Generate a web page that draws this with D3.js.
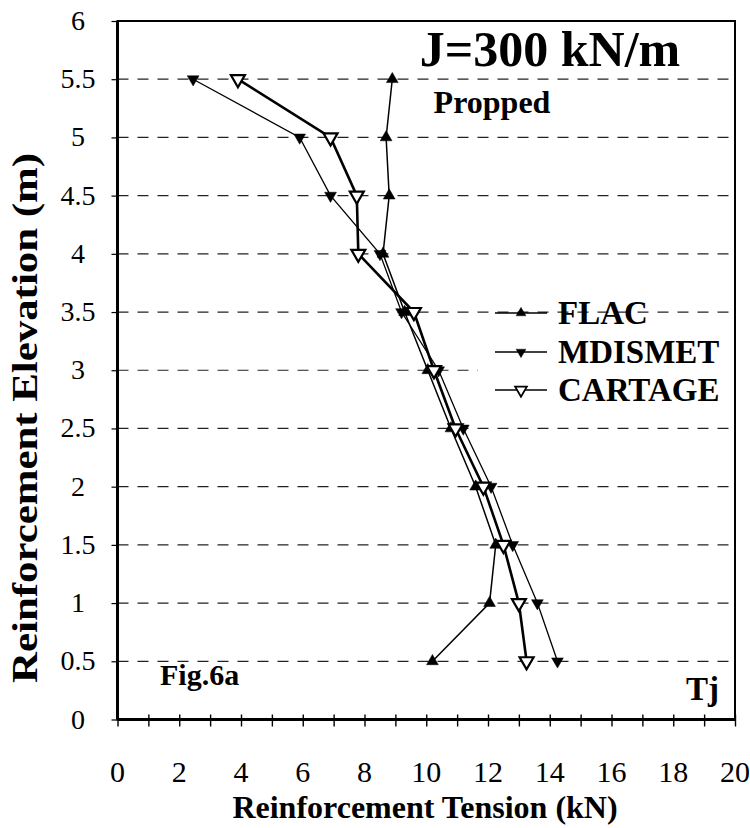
<!DOCTYPE html>
<html><head><meta charset="utf-8">
<script src="https://cdn.jsdelivr.net/npm/d3@7"></script>
<style>body{margin:0;background:#fff}svg{display:block}</style>
</head><body><svg id="c" width="750" height="828"></svg>
<script>
// ---- data ----
const elevations = [5.5, 5.0, 4.5, 4.0, 3.5, 3.0, 2.5, 2.0, 1.5, 1.0, 0.5];
const flac      = [8.9, 8.7, 8.8, 8.6, 9.3, 10.05, 10.8, 11.6, 12.25, 12.05, 10.2];
const mdismet   = [2.45, 5.9, 6.9, 8.5, 9.2, 10.4, 11.2, 12.1, 12.8, 13.6, 14.25];
const cartage   = [3.9, 6.9, 7.75, 7.8, 9.6, 10.25, 10.95, 11.85, 12.5, 13.0, 13.25];
const seriesNames = ["FLAC", "MDISMET", "CARTAGE"];
const xTickLabels = [0, 2, 4, 6, 8, 10, 12, 14, 16, 18, 20];
const xMinorTicks = [0,1,2,3,4,5,6,7,8,9,10,11,12,13,14,15,16,17,18,19,20];
const yTickLabels = [0, 0.5, 1, 1.5, 2, 2.5, 3, 3.5, 4, 4.5, 5, 5.5, 6];
const gridValues  = [0.5, 1, 1.5, 2, 2.5, 3, 3.5, 4, 4.5, 5, 5.5];

const svg = d3.select("#c");
const FONT = '"Liberation Serif", "Times New Roman", Times, serif';
const x = d3.scaleLinear().domain([0, 20]).range([117.5, 735]);
const y = d3.scaleLinear().domain([0, 6]).range([719.5, 21]);

function txt(sel, size, bold) {
  return sel.style("font-family", FONT).style("font-size", size + "px").style("font-weight", bold ? "bold" : "normal");
}

// gridlines
svg.append("g").selectAll("line").data(gridValues).join("line")
  .attr("x1", x(0)).attr("x2", x(20))
  .attr("y1", d => y(d)).attr("y2", d => y(d))
  .attr("stroke", "#222").attr("stroke-width", 1.2)
  .attr("stroke-dasharray", "11,9");

// legend background (hides gridline behind lower entries)
svg.append("rect").attr("x", 478).attr("y", 335).attr("width", 254).attr("height", 78).attr("fill", "#fff");

// frame
svg.append("rect").attr("x", x(0)).attr("y", y(6)).attr("width", x(20) - x(0)).attr("height", y(0) - y(6))
  .attr("fill", "none").attr("stroke", "#000").attr("stroke-width", 2);
svg.append("line").attr("x1", x(0)).attr("x2", x(0)).attr("y1", y(6)).attr("y2", y(0)).attr("stroke", "#000").attr("stroke-width", 3);
svg.append("line").attr("x1", x(0)).attr("x2", x(20)).attr("y1", y(0)).attr("y2", y(0)).attr("stroke", "#000").attr("stroke-width", 3);

// x axis
const xAxis = d3.axisBottom(x).tickValues(xMinorTicks).tickSize(7).tickFormat("");
const gx = svg.append("g").attr("transform", `translate(0,${y(0)})`).call(xAxis);
gx.select(".domain").remove();
gx.selectAll(".tick line").attr("y1", -5).attr("stroke", "#000").attr("stroke-width", 1.4);
txt(svg.append("g").selectAll("text").data(xTickLabels).join("text")
  .attr("x", d => x(d)).attr("y", 782)
  .attr("text-anchor", "middle"), 30, false)
  .text(d => d);

// y axis
const yAxis = d3.axisLeft(y).tickValues(yTickLabels).tickSize(6).tickFormat("");
const gy = svg.append("g").attr("transform", `translate(${x(0)},0)`).call(yAxis);
gy.select(".domain").remove();
gy.selectAll(".tick line").attr("stroke", "#000").attr("stroke-width", 1.2);
txt(svg.append("g").selectAll("text").data(yTickLabels).join("text")
  .attr("x", 78).attr("y", d => y(d) + 9)
  .attr("text-anchor", "middle"), 28, false)
  .text(d => d);

// axis titles
txt(svg.append("text").attr("x", 425).attr("y", 818).attr("text-anchor", "middle"), 32, true)
  .text("Reinforcement Tension (kN)");
txt(svg.append("text").attr("transform", "translate(37,418) rotate(-90)").attr("text-anchor", "middle"), 36, true)
  .attr("textLength", 530).attr("lengthAdjust", "spacingAndGlyphs")
  .text("Reinforcement Elevation (m)");

// annotations
txt(svg.append("text").attr("x", 550).attr("y", 66).attr("text-anchor", "middle"), 50, true).text("J=300 kN/m");
txt(svg.append("text").attr("x", 492).attr("y", 113).attr("text-anchor", "middle"), 32, true).text("Propped");
txt(svg.append("text").attr("x", 160).attr("y", 685), 30, true).text("Fig.6a");
txt(svg.append("text").attr("x", 719).attr("y", 700).attr("text-anchor", "end"), 33, true).text("Tj");

// series
const series = [
  {name: seriesNames[0], vals: flac,    lw: 1.5, rot: 0,   fill: "#000", size: 60, sw: 0.5},
  {name: seriesNames[1], vals: mdismet, lw: 1.3, rot: 180, fill: "#000", size: 60, sw: 0.5},
  {name: seriesNames[2], vals: cartage, lw: 2.6, rot: 180, fill: "#fff", size: 85, sw: 2.2}
];
const line = d3.line().x(d => x(d[0])).y(d => y(d[1]));
series.forEach(s => {
  const pts = s.vals.map((v, i) => [v, elevations[i]]);
  svg.append("path").attr("d", line(pts)).attr("fill", "none").attr("stroke", "#000").attr("stroke-width", s.lw);
});
series.forEach(s => {
  const pts = s.vals.map((v, i) => [v, elevations[i]]);
  svg.append("g").selectAll("path").data(pts).join("path")
    .attr("d", d3.symbol(d3.symbolTriangle, s.size)())
    .attr("transform", d => `translate(${x(d[0])},${y(d[1])}) rotate(${s.rot})`)
    .attr("fill", s.fill).attr("stroke", "#000").attr("stroke-width", s.sw);
});

// legend
const legendY = [313, 352, 390];
series.forEach((s, i) => {
  const g = svg.append("g").attr("transform", `translate(0,${legendY[i]})`);
  g.append("line").attr("x1", 495).attr("x2", 547).attr("y1", 0).attr("y2", 0).attr("stroke", "#000").attr("stroke-width", 1.4);
  g.append("path").attr("d", d3.symbol(d3.symbolTriangle, s.size * 0.7)())
    .attr("transform", `translate(521,0) rotate(${s.rot})`)
    .attr("fill", s.fill).attr("stroke", "#000").attr("stroke-width", s.sw * 0.8);
  txt(g.append("text").attr("x", 558).attr("y", 11), 33, true).text(s.name);
});
</script></body></html>
